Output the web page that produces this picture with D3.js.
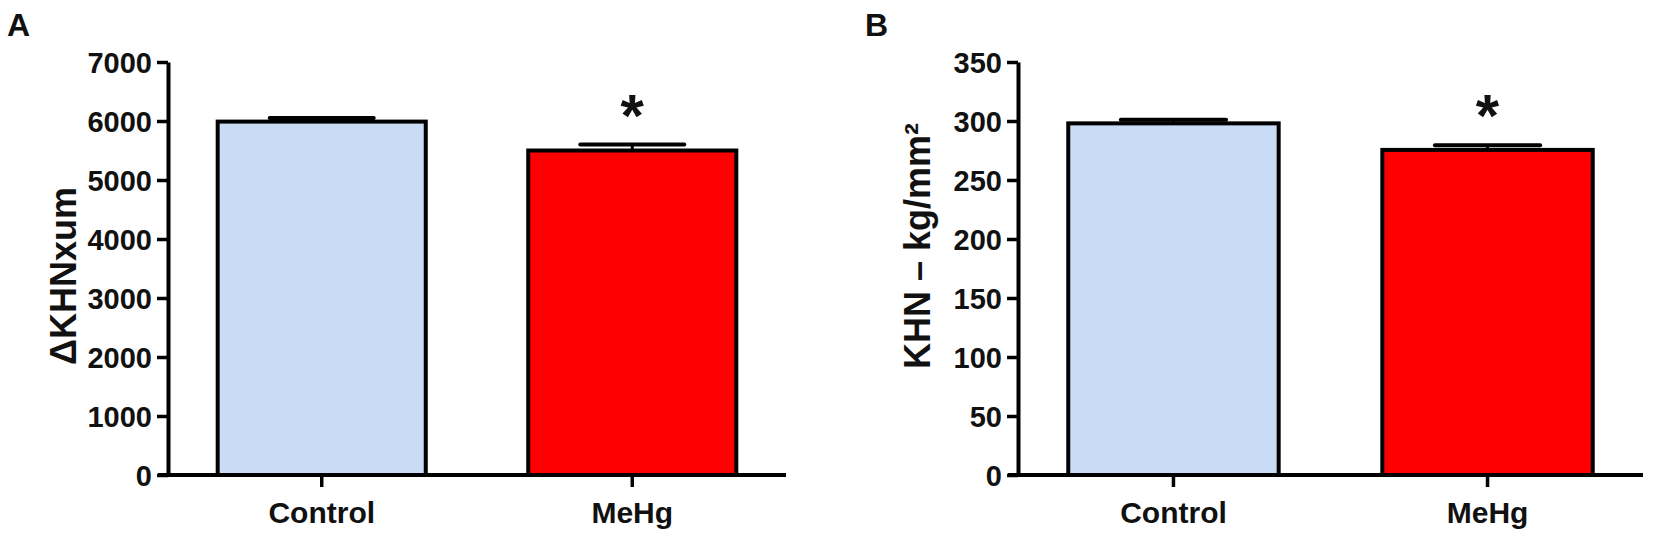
<!DOCTYPE html>
<html>
<head>
<meta charset="utf-8">
<script src="https://cdn.jsdelivr.net/npm/d3@7"></script>
<style>
  body { margin: 0; background: #fff; }
  svg text { font-family: "Liberation Sans", Arial, sans-serif; font-weight: bold; fill: #111; }
</style>
</head>
<body>
<div id="chart"></div>
<script>
// groups and values
var groups = ["Control", "MeHg"];
var colors = ["#c8dcf5", "#ff0000"];

// panel A: delta KHN x um
var meansA = [5990, 5500];
var semA = [60, 100];
var ticksA = [0, 1000, 2000, 3000, 4000, 5000, 6000, 7000];

// panel B: KHN - kg/mm2
var meansB = [298, 275.5];
var semB = [3, 4];
var ticksB = [0, 50, 100, 150, 200, 250, 300, 350];

var signif = ["", "*"];

var width = 1654, height = 537;

var svg = d3.select("#chart")
    .append("svg")
    .attr("width", width)
    .attr("height", height);

function drawPanel(opt) {
    var g = svg.append("g");

    var x = d3.scaleBand()
        .domain(groups)
        .range([opt.x0, opt.x1])
        .paddingInner(0.33)
        .paddingOuter(0.16);

    var y = d3.scaleLinear()
        .domain([0, opt.max])
        .range([475, 62]);

    // bars
    g.selectAll("rect.bar")
        .data(opt.means)
        .enter().append("rect")
        .attr("class", "bar")
        .attr("x", function(d, i) { return x(groups[i]); })
        .attr("y", function(d) { return y(d); })
        .attr("width", x.bandwidth())
        .attr("height", function(d) { return y(0) - y(d); })
        .attr("fill", function(d, i) { return colors[i]; })
        .attr("stroke", "#000")
        .attr("stroke-width", 4);

    // error bars (upper only)
    opt.means.forEach(function(m, i) {
        var cx = x(groups[i]) + x.bandwidth() / 2;
        var top = y(m + opt.sem[i]);
        g.append("line")
            .attr("x1", cx).attr("x2", cx)
            .attr("y1", y(m)).attr("y2", top)
            .attr("stroke", "#000").attr("stroke-width", 3);
        g.append("line")
            .attr("x1", cx - x.bandwidth() / 4).attr("x2", cx + x.bandwidth() / 4)
            .attr("y1", top).attr("y2", top)
            .attr("stroke", "#000").attr("stroke-width", 4)
            .attr("stroke-linecap", "round");
        if (signif[i]) {
            g.append("text")
                .attr("x", cx)
                .attr("y", top - 9)
                .attr("text-anchor", "middle")
                .style("font-size", "60px")
                .text(signif[i]);
        }
    });

    // y axis
    var yAxis = g.append("g")
        .attr("transform", "translate(" + opt.x0 + ",0)")
        .call(d3.axisLeft(y).tickValues(opt.ticks).tickFormat(d3.format("d"))
            .tickSize(11).tickPadding(5).tickSizeOuter(0));
    yAxis.select(".domain").attr("stroke-width", 4);
    yAxis.selectAll(".tick line").attr("stroke-width", 3.5);
    yAxis.selectAll(".tick text")
        .style("font-size", "29px")
        .attr("dy", "0.36em");

    // x axis
    var xAxis = g.append("g")
        .attr("transform", "translate(0," + y(0) + ")")
        .call(d3.axisBottom(x).tickSize(12).tickPadding(9).tickSizeOuter(0));
    xAxis.select(".domain").attr("stroke-width", 4)
        .attr("d", "M" + (opt.x0 - 10) + ",0H" + opt.x1);
    xAxis.selectAll(".tick line").attr("stroke-width", 3.5);
    xAxis.selectAll(".tick text")
        .style("font-size", "30px")
        .attr("dy", "0.9em");

    // y title
    g.append("text")
        .attr("transform", "translate(" + opt.titleX + "," + opt.titleY + ") rotate(-90)")
        .attr("text-anchor", "middle")
        .style("font-size", "36px")
        .text(opt.title);

    // panel letter
    g.append("text")
        .attr("x", opt.letterX)
        .attr("y", 36)
        .style("font-size", "32px")
        .text(opt.letter);
}

drawPanel({ x0: 168, x1: 786, max: 7000, means: meansA, sem: semA, ticks: ticksA,
    title: "\u0394KHNxum", titleX: 76, titleY: 276, letter: "A", letterX: 7 });
drawPanel({ x0: 1018, x1: 1643, max: 350, means: meansB, sem: semB, ticks: ticksB,
    title: "KHN \u2013 kg/mm\u00b2", titleX: 930, titleY: 246, letter: "B", letterX: 865 });
</script>
</body>
</html>
